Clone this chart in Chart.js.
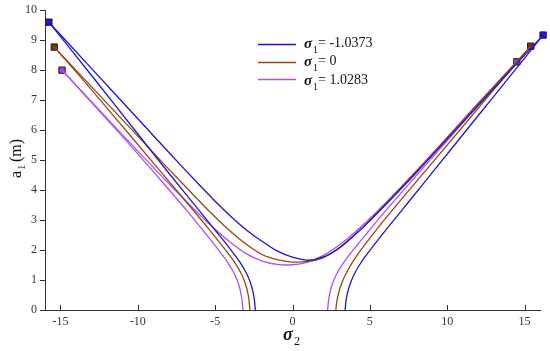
<!DOCTYPE html>
<html>
<head>
<meta charset="utf-8">
<script src="https://cdn.jsdelivr.net/npm/chart.js@4.4.0/dist/chart.umd.min.js"></script>
<style>
  html, body { margin: 0; padding: 0; background: #fff; }
  #wrap { width: 550px; height: 351px; position: relative; }
</style>
</head>
<body>
<div id="wrap"><canvas id="myChart"></canvas></div>
<script>
// legend values of sigma_1
const seriesNames = ['-1.0373', '0', '1.0283'];
const seriesColors = ['rgb(30, 20, 210)', 'rgb(150, 70, 20)', 'rgb(175, 80, 235)'];
const markerFills = ['rgb(25, 25, 225)', 'rgb(130, 45, 10)', 'rgb(160, 60, 220)'];

const xTicks = [-15, -10, -5, 0, 5, 10, 15];

// sigma_1 = -1.0373 (blue): lower-left branch, upper V branch, lower-right branch
const blueLeft = [[-2.4, 0], [-2.48, 0.4], [-2.65, 0.8], [-2.95, 1.2], [-3.4, 1.6], [-4.05, 2.05], [-4.9, 2.6],
  [-6, 3.3], [-8, 4.57], [-10, 5.87], [-13, 7.83], [-15.75, 9.6]];
const blueV = [[-15.75, 9.6], [-13, 8.06], [-10, 6.38], [-8, 5.26], [-6, 4.16], [-5, 3.63], [-4, 3.13],
  [-3, 2.68], [-2, 2.3], [-1, 1.97], [0, 1.76], [1, 1.66], [2, 1.77], [3, 2.07], [4, 2.5], [5, 2.98],
  [6, 3.5], [8, 4.58], [10, 5.7], [13, 7.38], [16.2, 9.17]];
const blueRight = [[16.2, 9.17], [13, 7.12], [10.5, 5.52], [8.5, 4.24], [7, 3.28], [5.9, 2.58], [5.05, 2.02],
  [4.4, 1.56], [3.95, 1.15], [3.65, 0.75], [3.48, 0.38], [3.4, 0]];

// sigma_1 = 0 (brown)
const brownLeft = [[-2.75, 0], [-2.83, 0.4], [-3.0, 0.8], [-3.3, 1.2], [-3.75, 1.6], [-4.4, 2.05], [-5.25, 2.6],
  [-6.4, 3.32], [-8, 4.3], [-10, 5.52], [-13, 7.35], [-15.4, 8.77]];
const brownV = [[-15.4, 8.77], [-13, 7.45], [-10, 5.8], [-8, 4.7], [-6, 3.62], [-5, 3.1], [-4, 2.62],
  [-3, 2.2], [-2, 1.86], [-1, 1.68], [0, 1.6], [1, 1.62], [2, 1.75], [3, 2.05], [4, 2.49], [5, 2.99],
  [6, 3.52], [8, 4.62], [10, 5.75], [13, 7.44], [15.4, 8.8]];
const brownRight = [[15.4, 8.8], [13, 7.34], [10, 5.5], [8, 4.28], [6.4, 3.3], [5.3, 2.6], [4.45, 2.02],
  [3.8, 1.53], [3.35, 1.1], [3.05, 0.7], [2.88, 0.33], [2.8, 0]];

// sigma_1 = 1.0283 (purple)
const purpleLeft = [[-3.2, 0], [-3.28, 0.4], [-3.45, 0.8], [-3.75, 1.2], [-4.2, 1.6], [-4.85, 2.05], [-5.7, 2.6],
  [-6.8, 3.3], [-8.5, 4.32], [-10.5, 5.5], [-12.5, 6.64], [-14.9, 8.0]];
const purpleV = [[-14.9, 8.0], [-12, 6.4], [-10, 5.3], [-8, 4.22], [-6, 3.18], [-5, 2.69], [-4, 2.25],
  [-3, 1.88], [-2, 1.64], [-1, 1.52], [0, 1.51], [1, 1.6], [2, 1.82], [3, 2.16], [4, 2.58], [5, 3.05],
  [6, 3.56], [8, 4.64], [10, 5.76], [12, 6.9], [14.5, 8.28]];
const purpleRight = [[14.5, 8.28], [12, 6.82], [10, 5.65], [8, 4.48], [6, 3.3], [4.95, 2.65], [4.0, 2.05],
  [3.33, 1.6], [2.85, 1.2], [2.53, 0.8], [2.35, 0.4], [2.27, 0]];

const branches = [
  [blueLeft, blueV, blueRight],
  [brownLeft, brownV, brownRight],
  [purpleLeft, purpleV, purpleRight]
];

const toPts = arr => arr.map(p => ({ x: p[0], y: p[1] }));

const datasets = [];
branches.forEach((set, i) => {
  set.forEach(b => {
    datasets.push({
      label: seriesNames[i],
      data: toPts(b),
      showLine: true,
      borderColor: seriesColors[i],
      borderWidth: 1.3,
      pointRadius: 0,
      tension: 0.3,
      fill: false,
      clip: false
    });
  });
});
// end markers, where the branches meet
branches.forEach((set, i) => {
  const v = set[1];
  datasets.push({
    label: seriesNames[i] + ' marker',
    data: toPts([v[0], v[v.length - 1]]),
    showLine: false,
    pointStyle: 'rect',
    pointRadius: 4.5,
    pointBackgroundColor: markerFills[i],
    pointBorderColor: '#222',
    pointBorderWidth: 1,
    clip: false
  });
});

const serif = '"Liberation Serif", "DejaVu Serif", serif';

const decor = {
  id: 'decor',
  afterDraw(chart) {
    const ctx = chart.ctx;
    const xs = chart.scales.x, ys = chart.scales.y;
    ctx.save();
    // x ticks point inward
    ctx.strokeStyle = '#333';
    ctx.lineWidth = 1;
    xTicks.forEach(t => {
      const px = Math.round(xs.getPixelForValue(t)) + 0.5;
      ctx.beginPath();
      ctx.moveTo(px, ys.bottom);
      ctx.lineTo(px, ys.bottom - 5);
      ctx.stroke();
    });

    // legend
    const lx = 258, rows = [44, 62, 79];
    rows.forEach((y, i) => {
      ctx.strokeStyle = seriesColors[i];
      ctx.lineWidth = 1.3;
      ctx.beginPath();
      ctx.moveTo(lx, y + 0.5);
      ctx.lineTo(lx + 38, y + 0.5);
      ctx.stroke();
      ctx.fillStyle = '#111';
      ctx.textBaseline = 'alphabetic';
      ctx.textAlign = 'left';
      const ty = [49, 67, 86][i];
      ctx.font = 'italic bold 15px ' + serif;
      ctx.fillText('σ', 304, ty - 1);
      ctx.font = '10px ' + serif;
      ctx.fillText('1', 313, ty + 4);
      ctx.font = '14px ' + serif;
      ctx.fillText('= ' + seriesNames[i], 318, ty - 2);
    });

    // x title
    ctx.fillStyle = '#111';
    ctx.font = 'italic bold 18px ' + serif;
    ctx.fillText('σ', 283, 340);
    ctx.font = '12px ' + serif;
    ctx.fillText('2', 294, 345);

    // y title
    ctx.translate(21, 178);
    ctx.rotate(-Math.PI / 2);
    ctx.font = '16px ' + serif;
    ctx.fillText('a', 0, 0);
    ctx.font = '11px ' + serif;
    ctx.fillText('1', 8, 4);
    ctx.font = '16px ' + serif;
    ctx.fillText('(m)', 16, 0);
    ctx.restore();
  }
};

window.addEventListener('load', () => {
  const ctx = document.getElementById('myChart').getContext('2d');
  new Chart(ctx, {
    type: 'scatter',
    data: { datasets: datasets },
    options: {
      responsive: true,
      maintainAspectRatio: false,
      animation: false,
      events: [],
      layout: { padding: { top: 10, right: 10, left: 0, bottom: 0 } },
      plugins: { legend: { display: false }, tooltip: { enabled: false } },
      scales: {
        x: {
          type: 'linear',
          min: -16,
          max: 16,
          afterBuildTicks: scale => { scale.ticks = xTicks.map(v => ({ value: v })); },
          afterFit: scale => { scale.height = 41; },
          grid: { display: true, drawOnChartArea: false, drawTicks: false },
          border: { display: true, color: '#333', width: 1 },
          ticks: { color: '#333', font: { family: serif, size: 12 }, padding: 5 }
        },
        y: {
          type: 'linear',
          min: 0,
          max: 10,
          afterFit: scale => { scale.width = 45; },
          grid: { display: true, drawOnChartArea: false, drawTicks: true, tickLength: 5, color: '#333' },
          border: { display: true, color: '#333', width: 1 },
          ticks: { stepSize: 1, color: '#333', font: { family: serif, size: 12 }, padding: 3 }
        }
      }
    },
    plugins: [decor]
  });
});
</script>
</body>
</html>
